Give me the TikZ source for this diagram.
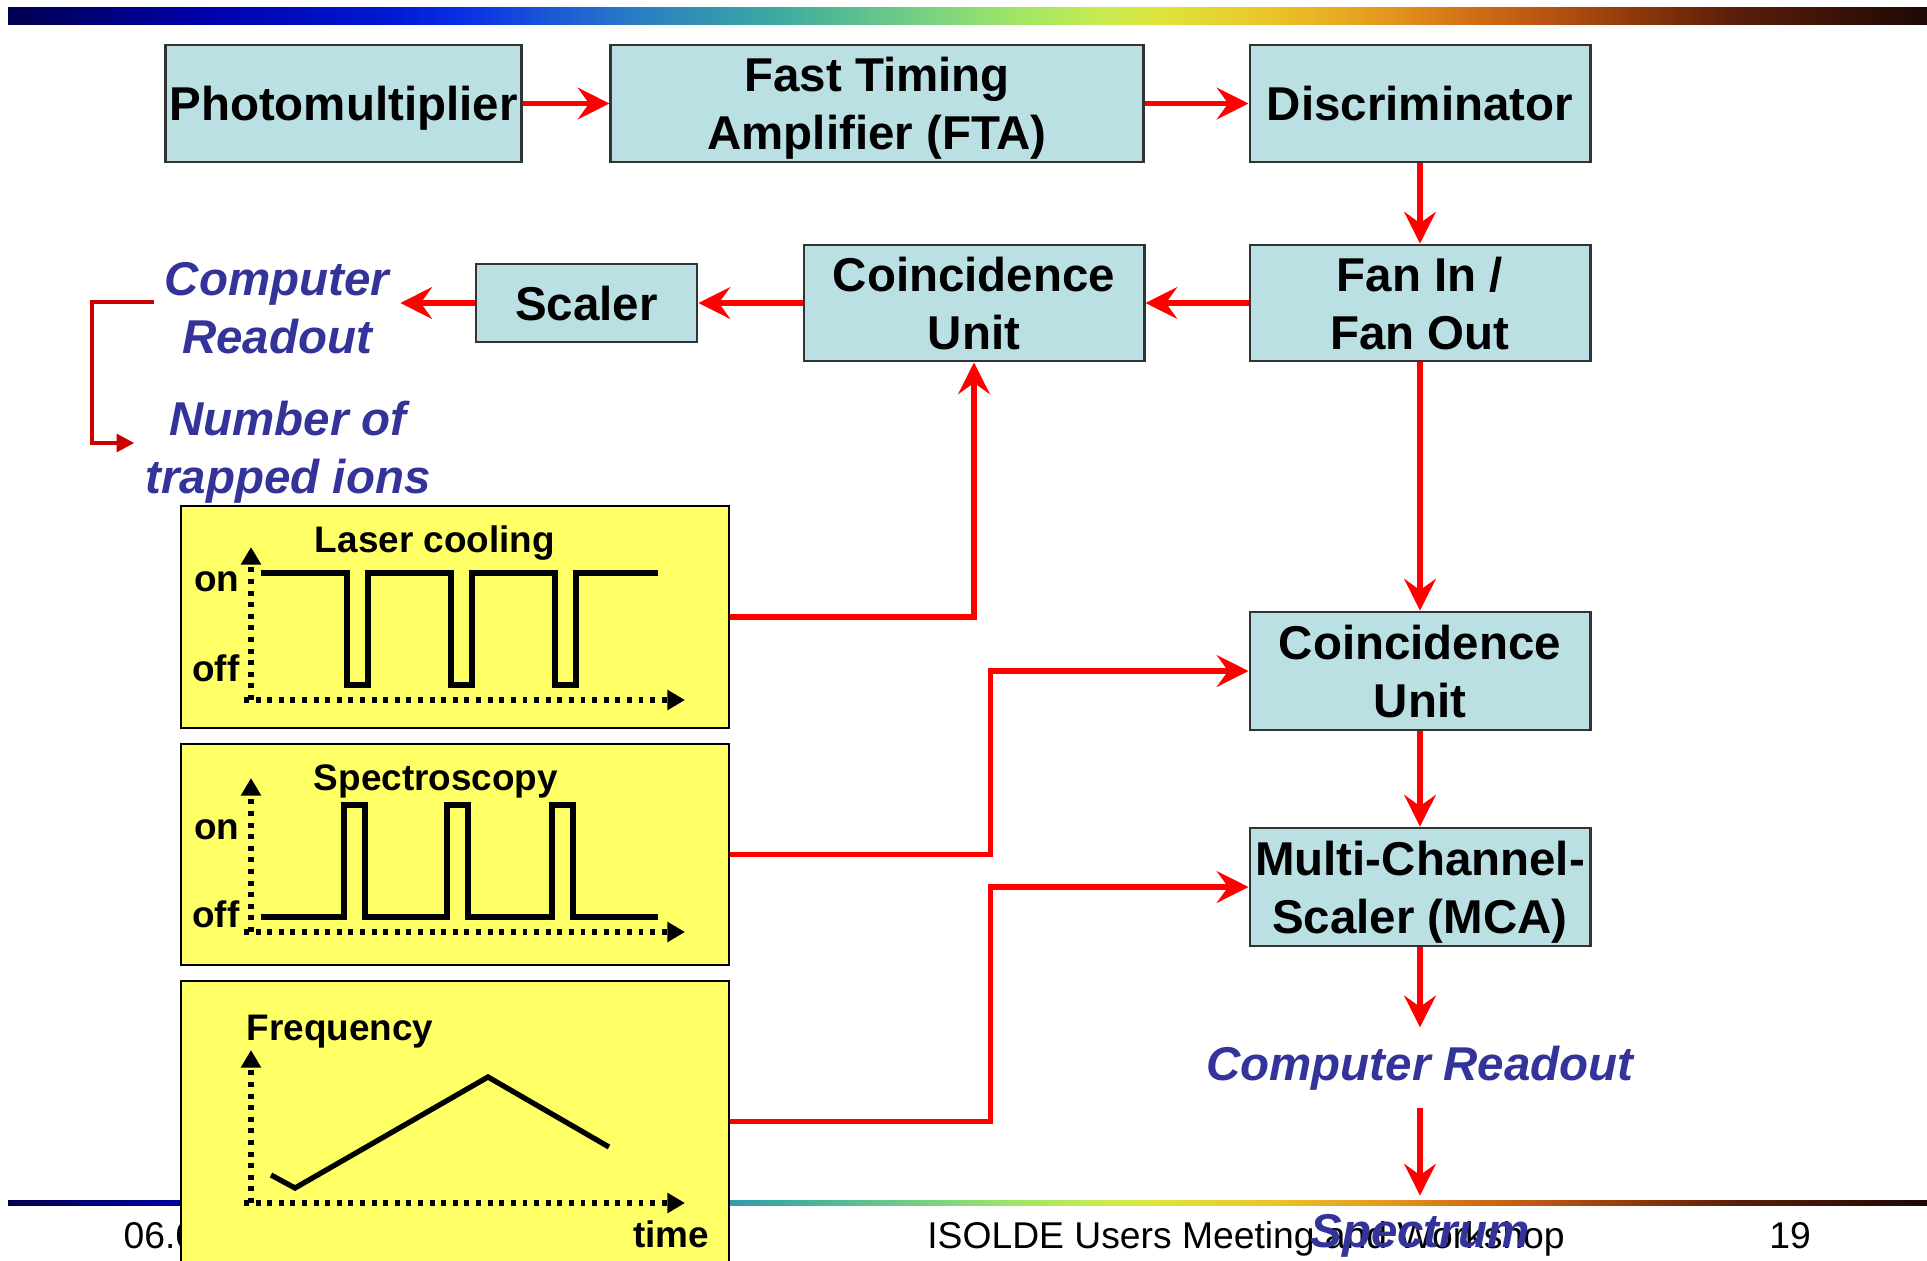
\documentclass[tikz,border=0pt]{standalone}
\usepackage{fontspec}
\setmainfont{Liberation Sans}
\usepackage{tikz}
\usepackage{xcolor}
\usetikzlibrary{arrows.meta, positioning}

\definecolor{boxfill}{RGB}{187,224,227}
\definecolor{plotfill}{RGB}{255,255,102}
\definecolor{readblue}{RGB}{51,51,153}
\definecolor{darkred}{RGB}{204,0,0}
% colours of the title bar
\definecolor{sp0}{RGB}{0,0,80}
\definecolor{sp1}{RGB}{0,0,170}
\definecolor{sp2}{RGB}{0,25,210}
\definecolor{sp3}{RGB}{10,50,230}
\definecolor{sp4}{RGB}{40,120,200}
\definecolor{sp5}{RGB}{60,170,160}
\definecolor{sp6}{RGB}{120,210,130}
\definecolor{sp7}{RGB}{155,228,105}
\definecolor{sp8}{RGB}{200,235,80}
\definecolor{sp9}{RGB}{222,228,60}
\definecolor{sp10}{RGB}{235,195,40}
\definecolor{sp11}{RGB}{228,150,30}
\definecolor{sp12}{RGB}{210,112,22}
\definecolor{sp13}{RGB}{185,85,18}
\definecolor{sp14}{RGB}{140,55,10}
\definecolor{sp15}{RGB}{90,30,10}
\definecolor{sp16}{RGB}{30,8,5}
\pgfdeclarehorizontalshading{spectrum}{100bp}{color(0bp)=(sp0); color(25bp)=(sp0);
  color(30bp)=(sp1); color(35bp)=(sp2); color(37bp)=(sp3); color(41bp)=(sp4);
  color(45bp)=(sp5); color(49bp)=(sp6); color(51bp)=(sp7); color(53.5bp)=(sp8);
  color(55bp)=(sp9); color(58bp)=(sp10); color(61bp)=(sp11); color(63bp)=(sp12);
  color(65bp)=(sp13); color(67.5bp)=(sp14); color(70bp)=(sp15); color(75bp)=(sp16);
  color(100bp)=(sp16)}

\begin{document}
\begin{tikzpicture}[x=0.01cm, y=-0.01cm,
        block/.style={draw=black!80, line width=0.8pt, fill=boxfill, inner sep=0pt, align=center,
            text depth=0pt, font=\fontsize{13.5}{16.5}\selectfont\bfseries},
        plotbox/.style={draw=black, line width=0.6pt, fill=plotfill, minimum width=5.48cm},
        readout/.style={text=readblue, inner xsep=3pt, inner ysep=5pt,
            font=\fontsize{13.5}{16.5}\selectfont\bfseries\itshape},
        plotlabel/.style={inner sep=0pt, font=\fontsize{10.5}{12}\selectfont\bfseries},
        footer/.style={inner sep=0pt, font=\fontsize{10.6}{12}\selectfont},
        sig/.style={draw=red, line width=1.5pt, -{Stealth[length=9pt, width=9pt, inset=3.2pt]}},
        bracket/.style={draw=darkred, line width=1.1pt, -{Triangle[length=5pt, width=5pt]}},
        axis/.style={line width=1.5pt, dash pattern=on 1.4pt off 1.9pt, -{Triangle[length=5pt, width=5.5pt]}},
        wave/.style={line width=1.5pt}]
    \useasboundingbox (0,0) rectangle (1927,1260);

    % bars and footer
    \fill[shading=spectrum] (8,7) rectangle (1927,24);
    \fill[shading=spectrum] (8,1200) rectangle (1927,1205);
    \node[footer, anchor=base west] (date) at (123,1248) {06.0};
    \node[footer, anchor=base] (event) at (1246,1248) {ISOLDE Users Meeting and Workshop};
    \node[footer, anchor=base] (page) at (1790,1248) {19};

    % electronics
    \node[block, minimum width=3.55cm, minimum height=1.17cm] (pm) at (343.5,103.5) {Photomultiplier};
    \node[block, minimum width=5.32cm, minimum height=1.17cm] (fta) at (877,103.5) {Fast Timing\\Amplifier (FTA)};
    \node[block, minimum width=3.4cm, minimum height=1.17cm] (disc) at (1420,103.5) {Discriminator};
    \node[block, minimum width=3.4cm, minimum height=1.16cm] (fan) at (1420,303) {Fan In /\\Fan Out};
    \node[block, minimum width=3.4cm, minimum height=1.16cm] (coinc1) at (974,303) {Coincidence\\Unit};
    \node[block, minimum width=2.21cm, minimum height=0.78cm] (scaler) at (586.5,303) {Scaler};
    \node[block, minimum width=3.4cm, minimum height=1.18cm] (coinc2) at (1420,671) {Coincidence\\Unit};
    \node[block, minimum width=3.4cm, minimum height=1.18cm] (mca) at (1420,887) {Multi-Channel-\\Scaler (MCA)};

    % timing plots
    \node[plotbox, minimum height=2.22cm] (lc) at (455,617) {};
    \node[plotbox, minimum height=2.21cm] (sp) at (455,854.5) {};
    \node[plotbox, minimum height=2.81cm] (fq) at (455,1121.5) {};

    \node[plotlabel, anchor=base] (lctitle) at (435,552) {Laser cooling};
    \node[plotlabel, anchor=base east] (lcon) at (240,591) {on};
    \node[plotlabel, anchor=base east] (lcoff) at (240,681) {off};
    \draw[axis] (251,700) -- (251,547);
    \draw[axis] (244,700) -- (685,700);
    \draw[wave] (261,573) \foreach \x in {347,451,555} { -- (\x,573) -- (\x,685) -- (\x+21,685) -- (\x+21,573) } -- (658,573);

    \node[plotlabel, anchor=base] (sptitle) at (436,790) {Spectroscopy};
    \node[plotlabel, anchor=base east] (spon) at (240,839) {on};
    \node[plotlabel, anchor=base east] (spoff) at (240,927) {off};
    \draw[axis] (251,932) -- (251,778);
    \draw[axis] (244,932) -- (685,932);
    \draw[wave] (261,917) \foreach \x in {344,447,552} { -- (\x,917) -- (\x,805) -- (\x+21,805) -- (\x+21,917) } -- (658,917);

    \node[plotlabel, anchor=base west] (fqtitle) at (246,1040) {Frequency};
    \node[plotlabel, anchor=base] (fqtime) at (671,1247) {time};
    \draw[axis] (251,1203) -- (251,1050);
    \draw[axis] (244,1203) -- (685,1203);
    \draw[wave] (271,1175) -- (295,1188) -- (488,1077) -- (609,1147);

    % read-out
    \node[readout, align=center] (crl) at (277,308.5) {Computer\\Readout};
    \node[readout, align=center] (nti) at (288,452) {Number of\\trapped ions};
    \node[readout, anchor=base] (cr2) at (1420,1080) {Computer Readout};
    \node[readout, anchor=base] (spec) at (1420,1247) {Spectrum};

    % signal flow
    \draw[sig] (pm) -- (fta);
    \draw[sig] (fta) -- (disc);
    \draw[sig] (disc) -- (fan);
    \draw[sig] (fan) -- (coinc1);
    \draw[sig] (coinc1) -- (scaler);
    \draw[sig] (scaler.west) -- (scaler.west -| crl.east);
    \draw[sig] (fan) -- (coinc2);
    \draw[sig] (coinc2) -- (mca);
    \draw[sig] (mca) -- (cr2);
    \draw[sig] (cr2) -- (spec);
    \draw[sig] (lc.east) -| (coinc1.south);
    \draw[sig] (sp.east) -- ++(260,0) |- (coinc2.west);
    \draw[sig] (fq.east) -- ++(260,0) |- (mca.west);
    \draw[bracket] ([yshift=0.065cm]crl.west) -- ++(-62,0) |- ([yshift=0.09cm]nti.west);
\end{tikzpicture}
\end{document}
